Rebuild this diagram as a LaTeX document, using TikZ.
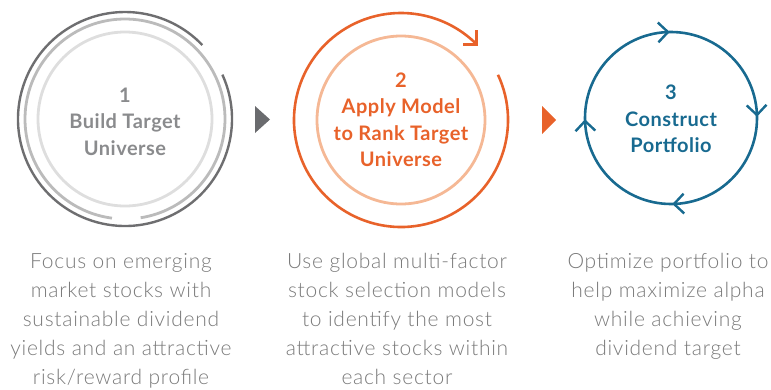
\documentclass[tikz,border=0pt]{standalone}
\usetikzlibrary{calc}
\usepackage{fontspec}
\setmainfont{Lato}
\newfontfamily\headfont{Lato}[LetterSpace=2.5]
\IfFontExistsTF{Lato Light}{\newfontfamily\lightfont{Lato Light}[LetterSpace=3.5]}{\newfontfamily\lightfont{Lato}[LetterSpace=3.5]}
\definecolor{headgray}{HTML}{8A8B8D}
\definecolor{bodygray}{HTML}{7A7A7A}
\definecolor{ringdark}{HTML}{6E6E70}
\definecolor{ringmid}{HTML}{BBBBBB}
\definecolor{ringlight}{HTML}{DEDEDE}
\definecolor{trigray}{HTML}{6A6B6E}
\definecolor{orng}{HTML}{E8622A}
\definecolor{lorng}{HTML}{F5B895}
\definecolor{blu}{HTML}{186A90}
\tikzset{
  headtxt/.style={align=center,inner sep=0pt,font=\headfont\fontsize{20}{26.5}\selectfont\bfseries},
  bodytxt/.style={align=center,inner sep=0pt,anchor=north,text=bodygray,font=\lightfont\fontsize{21}{29}\selectfont},
  chev/.style={line width=2.4pt,line cap=butt,line join=miter},
}
\begin{document}
\begin{tikzpicture}[x=1pt,y=-1pt]
\useasboundingbox (0,0) rectangle (771,389);
% centres
\coordinate (c1) at (125,119);
\coordinate (c2) at (401,120);
\coordinate (c3) at (671,118);
% ---- circle 1
\draw[ringlight,line width=2.8pt] (c1) circle[radius=87];
\draw[ringmid,line width=2.8pt] (c1) ++(97.5:100) arc[start angle=97.5,end angle=441,radius=100];
\draw[ringdark,line width=2.4pt] (c1) ++(-24.5:107) arc[start angle=-24.5,end angle=316.3,radius=107];
\node[headtxt,text=headgray] (t1) at (125,121.5) {1\\Build Target\\Universe};
% ---- triangle 1
\fill[trigray] (255,106) -- (270,119.5) -- (255,133) -- cycle;
% ---- circle 2
\draw[lorng,line width=2.8pt] (c2) circle[radius=84];
\draw[orng,line width=2.6pt] (c2) ++(-25:107) arc[start angle=-25,end angle=315,radius=107];
\coordinate (a2) at ($(c2)+(315:107)$);
\draw[orng,chev] ($(a2)+(270:14)$) -- (a2) -- ($(a2)+(180:14)$);
\node[headtxt,text=orng] (t2) at (401,120) {2\\Apply Model\\to Rank Target\\Universe};
% ---- triangle 2
\fill[orng] (542,106) -- (556,120) -- (542,134) -- cycle;
% ---- circle 3
\draw[blu,line width=2.6pt] (c3) circle[radius=86];
\foreach \p in {268,358,88,178}{
  \coordinate (b) at ($(c3)+(\p:86)$);
  \draw[blu,chev] ($(b)+(\p-45:14)$) -- (b) -- ($(b)+(\p-135:14)$);
}
\node[headtxt,text=blu] (t3) at (671,119) {3\\Construct\\Portfolio};
% ---- body text
\node[bodytxt] (d1) at (121,253) {Focus on emerging\\market stocks with\\sustainable dividend\\yields and an attractive\\risk/reward profile};
\node[bodytxt] (d2) at (397,253) {Use global multi-factor\\stock selection models\\to identify the most\\attractive stocks within\\each sector};
\node[bodytxt] (d3) at (668,253) {Optimize portfolio to\\help maximize alpha\\while achieving\\dividend target};
\end{tikzpicture}
\end{document}
